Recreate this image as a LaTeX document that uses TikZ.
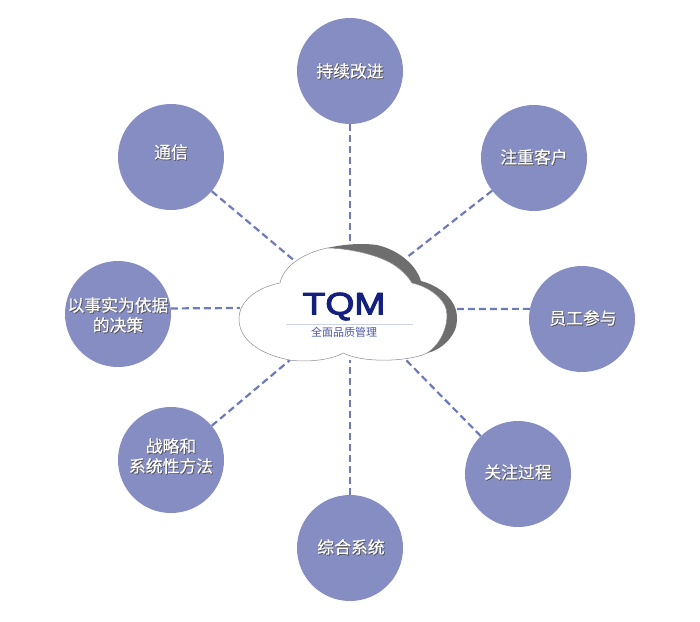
\documentclass[tikz,border=0pt]{standalone}
\usepackage{fontspec}
\setmainfont{Noto Sans CJK SC}
\newfontfamily\latinbold{Liberation Sans}[FakeStretch=1.2,FakeBold=3.5]
\newfontfamily\topicfont{Noto Sans CJK SC}[FakeBold=0.5]
\definecolor{disc}{HTML}{858DC3}
\definecolor{link}{HTML}{6F7ABB}
\definecolor{navy}{HTML}{13207F}
\definecolor{sub}{HTML}{4A55A5}
\definecolor{rulec}{HTML}{CDD1EA}
\definecolor{shadowc}{HTML}{6E6E6E}
\tikzset{
 x=1pt,y=-1pt,
 topic/.style={circle,fill=disc,minimum size=106pt,inner sep=0pt},
 conn/.style={link,line width=2.2pt,dash pattern=on 7pt off 4pt},
 txt/.style={align=center,font=\topicfont\fontsize{16.8}{20}\selectfont,inner sep=0pt},
}
\newcommand{\shtext}[3]{%
 \node[txt,text=black!70] at ([xshift=.8pt,yshift=-.8pt]#1) {#3};
 \node[txt,text=white] (#2) at (#1) {#3};}
\begin{document}
\begin{tikzpicture}
\useasboundingbox (0,0) rectangle (700,621);
\fill[white] (0,0) rectangle (700,621);
\node[topic] (a) at (350,71) {};
\node[topic] (b) at (534,158) {};
\node[topic] (c) at (582,319) {};
\node[topic] (d) at (518,474) {};
\node[topic] (e) at (350,548) {};
\node[topic] (f) at (171,460) {};
\node[topic] (g) at (118,314) {};
\node[topic] (h) at (171,157) {};
\coordinate (ca) at (350,243);
\coordinate (cb) at (406,258);
\coordinate (cc) at (457,309);
\coordinate (cd) at (406,360);
\coordinate (ce) at (350,360);
\coordinate (cf) at (290,360);
\coordinate (cg) at (240,308);
\coordinate (ch) at (296,262);
\draw[conn] (a) -- (ca);
\draw[conn] (b) -- (cb);
\draw[conn] (c.169) -- (cc);
\draw[conn] (d) -- (cd);
\draw[conn] (e) -- (ce);
\draw[conn] (f) -- (cf);
\draw[conn] (g.6.5) -- (cg);
\draw[conn] (h) -- (ch);
% shadow
\fill[shadowc] (327,248) .. controls (345,244) and (362,243) .. (377,245)
 .. controls (395,249) and (415,262) .. (421,281)
 .. controls (440,286) and (458,300) .. (457,320)
 .. controls (457,335) and (442,350) .. (427,353)
 -- (400,340) -- (400,290) -- cycle;
% cloud
\draw[draw=black!45,line width=.5pt,fill=white] (280,283)
 .. controls (283,268) and (300,254) .. (327,248)
 .. controls (345,248) and (380,254) .. (397,267)
 .. controls (405,273) and (409,278) .. (412,283)
 .. controls (430,287) and (447,300) .. (447,315)
 .. controls (447,332) and (437,347) .. (427,353)
 .. controls (412,361) and (365,364) .. (343,353)
 .. controls (330,361) and (300,363) .. (285,359)
 .. controls (255,352) and (239,337) .. (239,319)
 .. controls (239,302) and (255,288) .. (280,283) -- cycle;
\node[inner sep=0pt,text=navy,font=\latinbold\fontsize{31}{31}\selectfont] (tqm) at (344,306.5) {TQM};
\draw[rulec,line width=1pt] (286,324) -- (413,324);
\node[inner sep=0pt,text=sub,font=\fontsize{11}{13}\selectfont] (qc) at (344,332.5) {全面品质管理};
\shtext{350,71}{ta}{持续改进}
\shtext{534,157}{tb}{注重客户}
\shtext{583,318}{tc}{员工参与}
\shtext{518,472}{td}{关注过程}
\shtext{351,547}{te}{综合系统}
\shtext{171,456}{tf}{战略和\\系统性方法}
\shtext{118,315}{tg}{以事实为依据\\的决策}
\shtext{171,152}{th}{通信}
\end{tikzpicture}
\end{document}
